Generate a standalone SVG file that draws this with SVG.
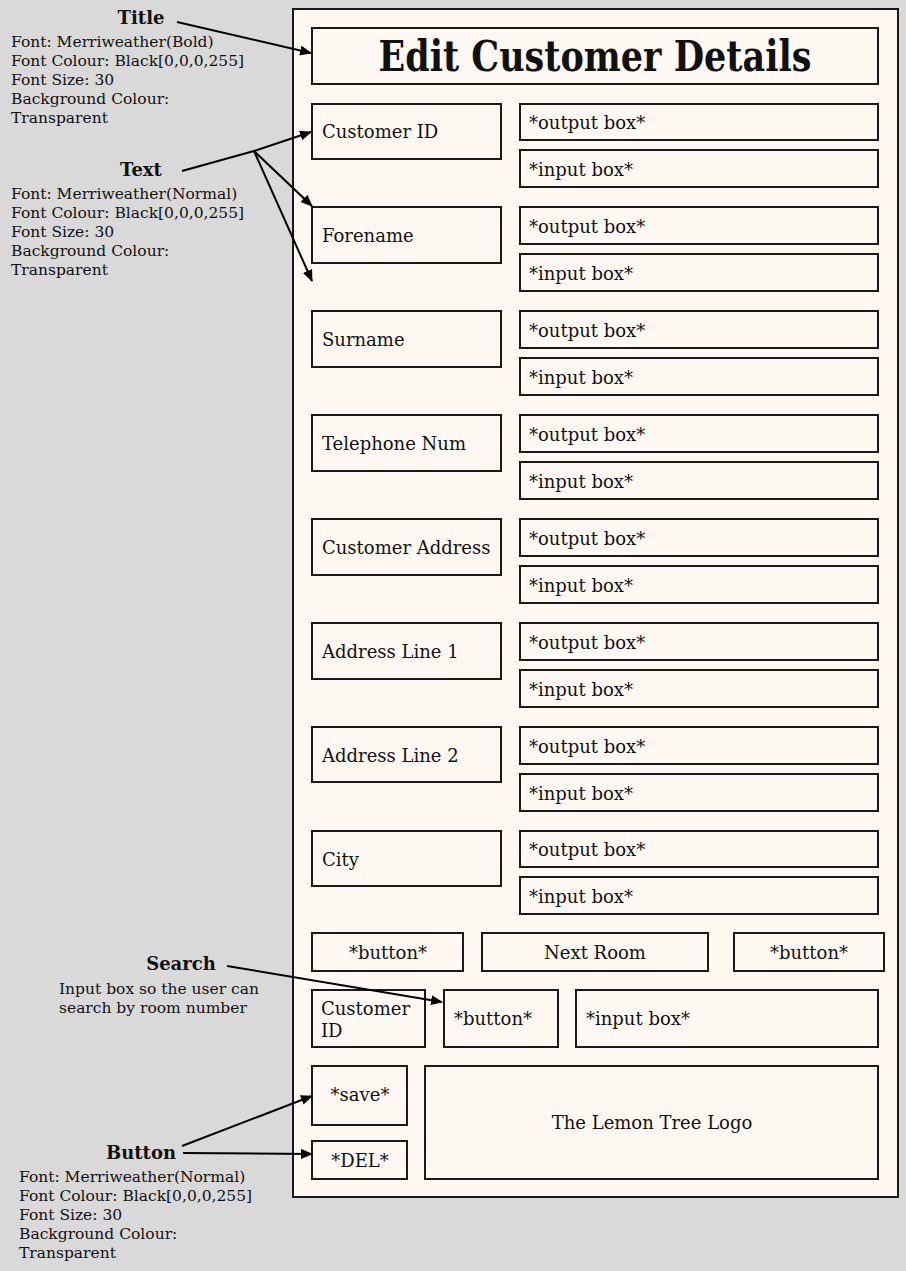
<svg xmlns="http://www.w3.org/2000/svg" width="906" height="1271" viewBox="0 0 906 1271">
<defs>
<marker id="ah" markerWidth="12" markerHeight="10" refX="11" refY="5" orient="auto" markerUnits="userSpaceOnUse">
<path d="M0,0 L12,5 L0,10 Z" fill="#000"/>
</marker>
<style>
.bx{fill:#fdf9f2;stroke:#1a1a1a;stroke-width:2}
.t{font-family:"DejaVu Serif","Liberation Serif",serif;font-size:18px;fill:#111}
.c{text-anchor:middle}
.h{font-family:"DejaVu Serif","Liberation Serif",serif;font-size:18px;font-weight:bold;fill:#111;text-anchor:middle}
.n{font-family:"DejaVu Serif","Liberation Serif",serif;font-size:15.5px;fill:#111}
.ln{stroke:#000;stroke-width:2;fill:none}
</style>
</defs>
<rect x="0" y="0" width="906" height="1271" fill="#d9d9d9"/>
<g id="panel"><rect class="bx" x="293" y="9" width="605" height="1188"/></g>

<g id="title"><rect class="bx" x="312" y="28" width="566" height="56"/>
<text x="595" y="71" text-anchor="middle" font-family="DejaVu Serif,serif" font-weight="bold" font-size="42" fill="#111" textLength="433" lengthAdjust="spacingAndGlyphs">Edit Customer Details</text></g>

<g id="row-customer-id"><rect class="bx" x="312" y="104" width="189" height="55"/><text class="t" x="322" y="138">Customer ID</text>
<rect class="bx" x="520" y="104" width="358" height="36"/><text class="t" x="529" y="129">*output box*</text>
<rect class="bx" x="520" y="150" width="358" height="37"/><text class="t" x="529" y="176">*input box*</text></g>

<g id="row-forename"><rect class="bx" x="312" y="207" width="189" height="56"/><text class="t" x="322" y="242">Forename</text>
<rect class="bx" x="520" y="207" width="358" height="37"/><text class="t" x="529" y="233">*output box*</text>
<rect class="bx" x="520" y="254" width="358" height="37"/><text class="t" x="529" y="280">*input box*</text></g>

<g id="row-surname"><rect class="bx" x="312" y="311" width="189" height="56"/><text class="t" x="322" y="346">Surname</text>
<rect class="bx" x="520" y="311" width="358" height="37"/><text class="t" x="529" y="337">*output box*</text>
<rect class="bx" x="520" y="358" width="358" height="37"/><text class="t" x="529" y="384">*input box*</text></g>

<g id="row-telephone"><rect class="bx" x="312" y="415" width="189" height="56"/><text class="t" x="322" y="450">Telephone Num</text>
<rect class="bx" x="520" y="415" width="358" height="37"/><text class="t" x="529" y="441">*output box*</text>
<rect class="bx" x="520" y="462" width="358" height="37"/><text class="t" x="529" y="488">*input box*</text></g>

<g id="row-address"><rect class="bx" x="312" y="519" width="189" height="56"/><text class="t" x="322" y="554">Customer Address</text>
<rect class="bx" x="520" y="519" width="358" height="37"/><text class="t" x="529" y="545">*output box*</text>
<rect class="bx" x="520" y="566" width="358" height="37"/><text class="t" x="529" y="592">*input box*</text></g>

<g id="row-line1"><rect class="bx" x="312" y="623" width="189" height="56"/><text class="t" x="322" y="658">Address Line 1</text>
<rect class="bx" x="520" y="623" width="358" height="37"/><text class="t" x="529" y="649">*output box*</text>
<rect class="bx" x="520" y="670" width="358" height="37"/><text class="t" x="529" y="696">*input box*</text></g>

<g id="row-line2"><rect class="bx" x="312" y="727" width="189" height="55"/><text class="t" x="322" y="762">Address Line 2</text>
<rect class="bx" x="520" y="727" width="358" height="37"/><text class="t" x="529" y="753">*output box*</text>
<rect class="bx" x="520" y="774" width="358" height="37"/><text class="t" x="529" y="800">*input box*</text></g>

<g id="row-city"><rect class="bx" x="312" y="831" width="189" height="55"/><text class="t" x="322" y="866">City</text>
<rect class="bx" x="520" y="831" width="358" height="36"/><text class="t" x="529" y="856">*output box*</text>
<rect class="bx" x="520" y="877" width="358" height="37"/><text class="t" x="529" y="903">*input box*</text></g>

<g id="btn-left"><rect class="bx" x="312" y="933" width="151" height="38"/><text class="t c" x="388" y="959">*button*</text></g>
<g id="btn-next"><rect class="bx" x="482" y="933" width="226" height="38"/><text class="t c" x="595" y="959">Next Room</text></g>
<g id="btn-right"><rect class="bx" x="734" y="933" width="150" height="38"/><text class="t c" x="809" y="959">*button*</text></g>

<g id="search-label"><rect class="bx" x="312" y="990" width="113" height="57"/><text class="t" x="321" y="1015">Customer</text><text class="t" x="321" y="1037">ID</text></g>
<g id="search-button"><rect class="bx" x="444" y="990" width="114" height="57"/><text class="t" x="454" y="1025">*button*</text></g>
<g id="search-input"><rect class="bx" x="576" y="990" width="302" height="57"/><text class="t" x="586" y="1025">*input box*</text></g>

<g id="btn-save"><rect class="bx" x="312" y="1066" width="95" height="59"/><text class="t c" x="360" y="1101">*save*</text></g>
<g id="btn-del"><rect class="bx" x="312" y="1141" width="95" height="38"/><text class="t c" x="360" y="1167">*DEL*</text></g>
<g id="logo"><rect class="bx" x="425" y="1066" width="453" height="113"/><text class="t c" x="652" y="1129">The Lemon Tree Logo</text></g>

<g id="note-title"><text class="h" x="141" y="24">Title</text>
<text class="n" x="11" y="47">Font: Merriweather(Bold)</text>
<text class="n" x="11" y="66">Font Colour: Black[0,0,0,255]</text>
<text class="n" x="11" y="85">Font Size: 30</text>
<text class="n" x="11" y="104">Background Colour:</text>
<text class="n" x="11" y="123">Transparent</text></g>

<g id="note-text"><text class="h" x="141" y="176">Text</text>
<text class="n" x="11" y="199">Font: Merriweather(Normal)</text>
<text class="n" x="11" y="218">Font Colour: Black[0,0,0,255]</text>
<text class="n" x="11" y="237">Font Size: 30</text>
<text class="n" x="11" y="256">Background Colour:</text>
<text class="n" x="11" y="275">Transparent</text></g>

<g id="note-search"><text class="h" x="181" y="970">Search</text>
<text class="n" x="59" y="994">Input box so the user can</text>
<text class="n" x="59" y="1013">search by room number</text></g>

<g id="note-button"><text class="h" x="141" y="1159">Button</text>
<text class="n" x="19" y="1182">Font: Merriweather(Normal)</text>
<text class="n" x="19" y="1201">Font Colour: Black[0,0,0,255]</text>
<text class="n" x="19" y="1220">Font Size: 30</text>
<text class="n" x="19" y="1239">Background Colour:</text>
<text class="n" x="19" y="1258">Transparent</text></g>

<g id="connectors">
<line class="ln" x1="177" y1="22" x2="311" y2="53" marker-end="url(#ah)"/>
<line class="ln" x1="182" y1="171" x2="254" y2="151"/>
<line class="ln" x1="254" y1="151" x2="311" y2="132" marker-end="url(#ah)"/>
<line class="ln" x1="254" y1="151" x2="312" y2="206" marker-end="url(#ah)"/>
<line class="ln" x1="254" y1="151" x2="312" y2="281" marker-end="url(#ah)"/>
<line class="ln" x1="227" y1="966" x2="442" y2="1002" marker-end="url(#ah)"/>
<line class="ln" x1="182" y1="1146" x2="312" y2="1096" marker-end="url(#ah)"/>
<line class="ln" x1="183" y1="1153" x2="312" y2="1154" marker-end="url(#ah)"/>
</g>
</svg>
